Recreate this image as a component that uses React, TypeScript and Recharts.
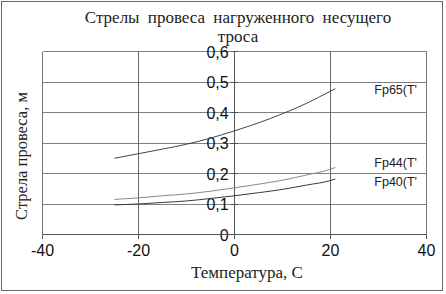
import React from "react";
import {
  LineChart,
  Line,
  CartesianGrid,
  XAxis,
  YAxis,
  ReferenceLine,
} from "recharts";

const temps = [-25, -20, -15, -10, -5, 0, 5, 10, 15, 20, 21];
const fp65 = [0.25, 0.265, 0.28, 0.296, 0.316, 0.34, 0.366, 0.396, 0.43, 0.47, 0.478];
const fp44 = [0.115, 0.12, 0.127, 0.133, 0.142, 0.153, 0.165, 0.178, 0.195, 0.214, 0.22];
const fp40 = [0.097, 0.1, 0.105, 0.11, 0.118, 0.127, 0.137, 0.148, 0.162, 0.177, 0.182];
const xTicks = [-40, -20, 0, 20, 40];
const yTicks = [0, 0.1, 0.2, 0.3, 0.4, 0.5, 0.6];

const data = temps.map((t, i) => ({ t, fp65: fp65[i], fp44: fp44[i], fp40: fp40[i] }));

const series = [
  { key: "fp65", name: "Fp65(T'", color: "#444444", dy: 5 },
  { key: "fp44", name: "Fp44(T'", color: "#8a8a8a", dy: 0 },
  { key: "fp40", name: "Fp40(T'", color: "#3a3a3a", dy: 7 },
];

const serif = "'Liberation Serif', 'Times New Roman', serif";
const sans = "'Liberation Sans', Arial, sans-serif";

const EndLabel = (name: string, dy: number) => (props: any) => {
  const { x, y, index } = props;
  if (index !== temps.length - 1) return <g />;
  return (
    <text x={x + 39} y={y} dy={dy} fontFamily={sans} fontSize={12.5} fill="#222">
      {name}
    </text>
  );
};

const YTickLabel = (text: string) => (props: any) => {
  const { viewBox } = props;
  return (
    <text
      x={viewBox.x - 2}
      y={viewBox.y}
      dy={6}
      textAnchor="end"
      fontFamily={sans}
      fontSize={16}
      fill="#111"
    >
      {text}
    </text>
  );
};

export default function App() {
  return (
    <div style={{ position: "absolute", left: 0, top: 0, width: 446, height: 294, background: "#fff" }}>
      <LineChart
        width={446}
        height={294}
        data={data}
        margin={{ top: 51.5, right: 19.5, left: 42.5, bottom: 19.5 }}
      >
        <CartesianGrid stroke="#808080" vertical={false} shapeRendering="crispEdges" />
        <XAxis
          dataKey="t"
          type="number"
          domain={[-40, 40]}
          ticks={xTicks}
          height={40}
          stroke="#555"
          tickLine={{ stroke: "#555", shapeRendering: "crispEdges" }}
          axisLine={{ stroke: "#555", shapeRendering: "crispEdges" }}
          tickSize={4}
          tick={{ fontFamily: sans, fontSize: 16, fill: "#111", dy: 4 }}
        />
        <YAxis hide type="number" domain={[0, 0.6]} ticks={yTicks} width={0} />
        <ReferenceLine x={-40} stroke="#777" ifOverflow="visible" shapeRendering="crispEdges" />
        <ReferenceLine x={-20} stroke="#666" shapeRendering="crispEdges" />
        <ReferenceLine x={20} stroke="#666" shapeRendering="crispEdges" />
        <ReferenceLine x={40} stroke="#777" ifOverflow="visible" shapeRendering="crispEdges" />
        <ReferenceLine x={0} stroke="#555" shapeRendering="crispEdges" />
        {yTicks.map((v) => (
          <ReferenceLine
            key={"yt" + v}
            segment={[{ x: -0.8, y: v }, { x: 0.8, y: v }]}
            stroke="#555"
            shapeRendering="crispEdges"
            label={YTickLabel(String(v).replace(".", ","))}
          />
        ))}
        {series.map((s) => (
          <Line
            key={s.key}
            dataKey={s.key}
            name={s.name}
            type="monotone"
            stroke={s.color}
            strokeWidth={1}
            dot={false}
            label={EndLabel(s.name, s.dy)}
            isAnimationActive={false}
          />
        ))}
      </LineChart>
      <div
        style={{
          position: "absolute",
          left: 1,
          top: 1,
          width: 442,
          height: 290,
          border: "1px solid #666",
          boxSizing: "border-box",
          pointerEvents: "none",
        }}
      />
      <div
        style={{
          position: "absolute",
          left: 40,
          width: 396,
          top: 8,
          textAlign: "center",
          fontFamily: serif,
          fontSize: 17,
          lineHeight: "19px",
          color: "#222",
          wordSpacing: 4,
        }}
      >
        Стрелы провеса нагруженного несущего
        <br />
        троса
      </div>
      <div
        style={{
          position: "absolute",
          left: 22,
          top: 156,
          transform: "translate(-50%, -50%) rotate(-90deg)",
          whiteSpace: "nowrap",
          fontFamily: serif,
          fontSize: 16.5,
          color: "#222",
        }}
      >
        Стрела провеса, м
      </div>
      <div
        style={{
          position: "absolute",
          left: 247,
          top: 273,
          transform: "translate(-50%, -50%)",
          whiteSpace: "nowrap",
          fontFamily: serif,
          fontSize: 17,
          color: "#222",
        }}
      >
        Температура, С
      </div>
    </div>
  );
}
